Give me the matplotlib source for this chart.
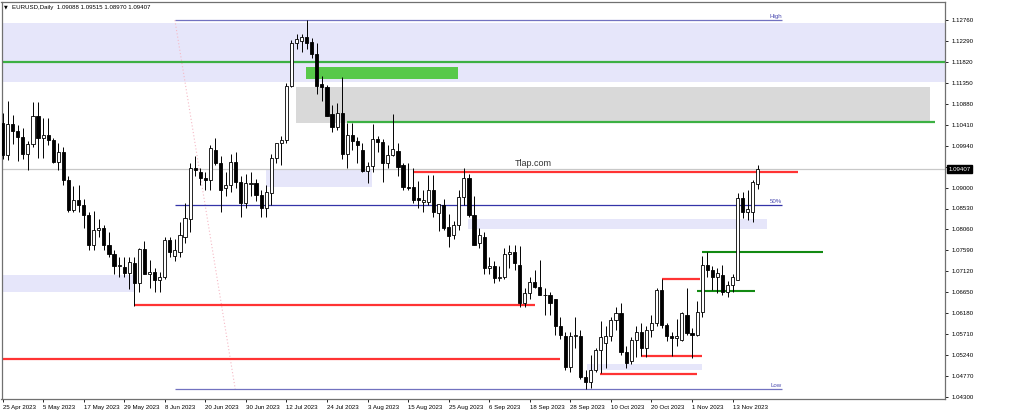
import numpy as np
import pandas as pd
import matplotlib.pyplot as plt
from matplotlib.transforms import blended_transform_factory

# =============================================================================
# Data: EURUSD daily candles, 25 Apr 2023 .. 20 Nov 2023
# =============================================================================

opens = [
    1.1045, 1.0973, 1.1043, 1.1028, 1.1013, 1.0975, 1.0998, 1.1060, 1.1012, 1.1018,
    1.1006, 1.0958, 1.0980, 1.0917, 1.0850, 1.0872, 1.0861, 1.0838, 1.0771, 1.0805,
    1.0810, 1.0771, 1.0750, 1.0723, 1.0722, 1.0708, 1.0731, 1.0686, 1.0762, 1.0706,
    1.0710, 1.0693, 1.0699, 1.0782, 1.0747, 1.0755, 1.0790, 1.0830, 1.0944, 1.0935,
    1.0922, 1.0918, 1.0984, 1.0955, 1.0899, 1.0906, 1.0957, 1.0912, 1.0865, 1.0908,
    1.0910, 1.0883, 1.0854, 1.0888, 1.0966, 1.0999, 1.1007, 1.1128, 1.1224, 1.1229,
    1.1238, 1.1227, 1.1200, 1.1132, 1.1126, 1.1066, 1.1037, 1.1068, 1.0975, 1.1017,
    1.1005, 1.0985, 1.0938, 1.0948, 1.1008, 1.1002, 1.0955, 1.0973, 1.0982, 1.0950,
    1.0902, 1.0901, 1.0876, 1.0868, 1.0868, 1.0895, 1.0843, 1.0861, 1.0812, 1.0793,
    1.0816, 1.0879, 1.0921, 1.0839, 1.0776, 1.0790, 1.0720, 1.0725, 1.0698, 1.0700,
    1.0752, 1.0755, 1.0726, 1.0641, 1.0663, 1.0688, 1.0677, 1.0659, 1.0659, 1.0650,
    1.0590, 1.0567, 1.0497, 1.0567, 1.0567, 1.0475, 1.0464, 1.0490, 1.0535, 1.0552,
    1.0566, 1.0603, 1.0618, 1.0530, 1.0510, 1.0558, 1.0576, 1.0540, 1.0580, 1.0596,
    1.0670, 1.0592, 1.0566, 1.0562, 1.0558, 1.0614, 1.0574, 1.0569, 1.0621, 1.0726,
    1.0715, 1.0700, 1.0704, 1.0666, 1.0681, 1.0693, 1.0877, 1.0845, 1.0845, 1.09088,
]
highs = [
    1.1068, 1.1095, 1.1062, 1.1040, 1.1033, 1.1005, 1.1092, 1.1092, 1.1055, 1.1055,
    1.1012, 1.1000, 1.0990, 1.0925, 1.0904, 1.0905, 1.0875, 1.0845, 1.0848, 1.0830,
    1.0815, 1.0800, 1.0760, 1.0745, 1.0745, 1.0745, 1.0745, 1.0765, 1.0780, 1.0737,
    1.0720, 1.0710, 1.0788, 1.0790, 1.0785, 1.0823, 1.0865, 1.0955, 1.0970, 1.0945,
    1.0935, 1.0995, 1.1012, 1.0970, 1.0935, 1.0975, 1.0980, 1.0925, 1.0930, 1.0935,
    1.0920, 1.0895, 1.0905, 1.0975, 1.1000, 1.1015, 1.1135, 1.1230, 1.1245, 1.1245,
    1.1276, 1.1235, 1.1225, 1.1150, 1.1130, 1.1085, 1.1090, 1.1149, 1.1045, 1.1045,
    1.1013, 1.1000, 1.0958, 1.1043, 1.1015, 1.1010, 1.0995, 1.1065, 1.1000, 1.0955,
    1.0955, 1.0945, 1.0915, 1.0895, 1.0928, 1.0928, 1.0860, 1.0875, 1.0840, 1.0825,
    1.0895, 1.0945, 1.0930, 1.0882, 1.0810, 1.0800, 1.0745, 1.0735, 1.0725, 1.0765,
    1.0770, 1.0770, 1.0768, 1.0675, 1.0700, 1.0715, 1.0737, 1.0675, 1.0665, 1.0650,
    1.0610, 1.0575, 1.0575, 1.0610, 1.0580, 1.0490, 1.0525, 1.0540, 1.0600, 1.0590,
    1.0610, 1.0632, 1.0641, 1.0545, 1.0565, 1.0590, 1.0595, 1.0590, 1.0615, 1.0675,
    1.0695, 1.0595, 1.0575, 1.0605, 1.0620, 1.0675, 1.0585, 1.0645, 1.0746, 1.0755,
    1.0725, 1.0720, 1.0726, 1.0690, 1.0705, 1.0888, 1.0890, 1.0894, 1.0918, 1.09515,
]
lows = [
    1.0965, 1.0962, 1.0998, 1.0960, 1.0965, 1.0940, 1.0990, 1.0967, 1.0967, 1.0995,
    1.0955, 1.0940, 1.0905, 1.0845, 1.0845, 1.0845, 1.0810, 1.0760, 1.0760, 1.0790,
    1.0760, 1.0745, 1.0705, 1.0700, 1.0700, 1.0673, 1.0635, 1.0665, 1.0705, 1.0675,
    1.0666, 1.0666, 1.0695, 1.0745, 1.0735, 1.0745, 1.0775, 1.0800, 1.0925, 1.0905,
    1.0895, 1.0895, 1.0950, 1.0845, 1.0880, 1.0890, 1.0900, 1.0835, 1.0855, 1.0880,
    1.0870, 1.0835, 1.0834, 1.0860, 1.0955, 1.0950, 1.1000, 1.1125, 1.1210, 1.1205,
    1.1210, 1.1190, 1.1110, 1.1095, 1.1060, 1.1025, 1.1030, 1.0965, 1.0945, 1.0985,
    1.0955, 1.0935, 1.0910, 1.0935, 1.0980, 1.0912, 1.0945, 1.0970, 1.0925, 1.0895,
    1.0895, 1.0865, 1.0855, 1.0845, 1.0860, 1.0835, 1.0802, 1.0805, 1.0766, 1.0785,
    1.0805, 1.0860, 1.0835, 1.0770, 1.0765, 1.0705, 1.0705, 1.0685, 1.0690, 1.0695,
    1.0720, 1.0715, 1.0632, 1.0632, 1.0650, 1.0675, 1.0660, 1.0615, 1.0615, 1.0570,
    1.0560, 1.0490, 1.0485, 1.0540, 1.0470, 1.0448, 1.0450, 1.0485, 1.0483, 1.0495,
    1.0555, 1.0580, 1.0525, 1.0495, 1.0505, 1.0520, 1.0523, 1.0520, 1.0565, 1.0590,
    1.0585, 1.0555, 1.0522, 1.0545, 1.0555, 1.0570, 1.0517, 1.0568, 1.0610, 1.0700,
    1.0670, 1.0663, 1.0660, 1.0654, 1.0665, 1.0693, 1.0832, 1.0827, 1.0823, 1.08970,
]
closes = [
    1.0973, 1.1043, 1.1028, 1.1013, 1.0975, 1.0998, 1.1060, 1.1012, 1.1018, 1.1006,
    1.0958, 1.0980, 1.0917, 1.0850, 1.0872, 1.0861, 1.0838, 1.0771, 1.0805, 1.0810,
    1.0771, 1.0750, 1.0723, 1.0726, 1.0708, 1.0733, 1.0686, 1.0762, 1.0706, 1.0710,
    1.0693, 1.0699, 1.0782, 1.0755, 1.0760, 1.0793, 1.0832, 1.0944, 1.0940, 1.0922,
    1.0918, 1.0988, 1.0955, 1.0894, 1.0906, 1.0957, 1.0912, 1.0865, 1.0910, 1.0911,
    1.0883, 1.0854, 1.0890, 1.0966, 1.0999, 1.1007, 1.1128, 1.1224, 1.1233, 1.1238,
    1.1224, 1.1200, 1.1128, 1.1126, 1.1060, 1.1037, 1.1068, 1.0975, 1.1017, 1.1005,
    1.0996, 1.0938, 1.0948, 1.1008, 1.1002, 1.0955, 1.0973, 1.0987, 1.0947, 1.0902,
    1.0900, 1.0872, 1.0872, 1.0873, 1.0895, 1.0845, 1.0863, 1.0810, 1.0792, 1.0816,
    1.0879, 1.0921, 1.0839, 1.0771, 1.0794, 1.0720, 1.0725, 1.0698, 1.0700, 1.0752,
    1.0755, 1.0730, 1.0641, 1.0663, 1.0688, 1.0677, 1.0659, 1.0659, 1.0641, 1.0590,
    1.0569, 1.0497, 1.0567, 1.0570, 1.0475, 1.0464, 1.0490, 1.0535, 1.0564, 1.0566,
    1.0603, 1.0618, 1.0530, 1.0507, 1.0558, 1.0576, 1.0540, 1.0580, 1.0596, 1.0670,
    1.0592, 1.0566, 1.0562, 1.0566, 1.0618, 1.0574, 1.0569, 1.0621, 1.0726, 1.0715,
    1.0699, 1.0709, 1.0666, 1.0681, 1.0699, 1.0877, 1.0845, 1.0852, 1.0913, 1.09407,
]

dates = pd.bdate_range("2023-04-25", periods=len(opens))
label_step = 8

price_ticks = [1.12760, 1.12290, 1.11820, 1.11350, 1.10880, 1.10410, 1.09940,
               1.09470, 1.09000, 1.08530, 1.08060, 1.07590, 1.07120, 1.06650,
               1.06180, 1.05710, 1.05240, 1.04770, 1.04300]

header = "EURUSD,Daily  1.09088 1.09515 1.08970 1.09407"
last_price = 1.09407

# Fibonacci anchors (bar index, price)
fib_high = 1.12757
fib_low = 1.04480
fib_start, fib_end = 34.0, 153.7
fib_diag = [(34.0, 1.12757), (45.9, 1.04480)]

# Zones drawn on the chart: (bar from, bar to, price low, price high)
lavender_zones = [
    (None, None, 1.11376, 1.12699),
    (52.0, 72.9, 1.09006, 1.09416),
    (91.8, 150.8, 1.08070, 1.08294),
    (None, 26.1, 1.06663, 1.07038),
    (115.3, 138.0, 1.04906, 1.05040),
]
gray_zones = [(57.9, 182.9, 1.10455, 1.11250)]
green_zones = [(59.9, 89.8, 1.11436, 1.11712)]

# Horizontal levels: (bar from, bar to, price)
red_levels = [
    (81.0, 156.9, 1.09349),
    (25.9, 105.0, 1.06365),
    (None, 110.0, 1.05142),
    (130.0, 137.6, 1.06949),
    (125.9, 138.0, 1.05231),
    (117.9, 137.0, 1.04816),
]
green_levels = [
    (None, None, 1.11817),
    (67.9, 184.0, 1.10464),
]
dark_green_levels = [
    (138.0, 161.8, 1.07560),
    (137.0, 148.4, 1.06679),
]

# =============================================================================
# Plot
# =============================================================================

plt.rcParams["font.family"] = ["Liberation Sans", "DejaVu Sans"]

fig = plt.figure(figsize=(10.24, 4.12), dpi=100)
ax = fig.add_axes([1.5 / 1024, 13.5 / 412, 943.5 / 1024, 397 / 412])

k = 0.0846 / 377
xmin, xmax = -0.2, 185.9
ymin, ymax = 1.12760 - 378.5 * k, 1.12760 + 18.5 * k
ax.set_xlim(xmin, xmax)
ax.set_ylim(ymin, ymax)


def span(a, b):
    return (xmin if a is None else a), (xmax if b is None else b)


for a, b, lo, hi in lavender_zones:
    a, b = span(a, b)
    ax.fill_between([a, b], lo, hi, color="#e6e6fa", lw=0, zorder=1)
for a, b, lo, hi in gray_zones:
    ax.fill_between([a, b], lo, hi, color="#d9d9d9", lw=0, zorder=1)
for a, b, lo, hi in green_zones:
    ax.fill_between([a, b], lo, hi, color="#58c94a", lw=0, zorder=1.5)

for a, b, p in red_levels:
    a, b = span(a, b)
    ax.hlines(p, a, b, color="#ff3333", lw=1.6, zorder=2)
for a, b, p in green_levels:
    a, b = span(a, b)
    ax.hlines(p, a, b, color="#3cb043", lw=1.6, zorder=2)
for a, b, p in dark_green_levels:
    ax.hlines(p, a, b, color="#138a13", lw=1.5, zorder=2)

# Fibonacci
fib_mid = (fib_high + fib_low) / 2
ax.hlines(fib_high, fib_start, fib_end, color="#7272c0", lw=0.9, zorder=2)
ax.hlines(fib_mid, fib_start, fib_end, color="#3434a8", lw=0.9, zorder=2)
ax.hlines(fib_low, fib_start, fib_end, color="#7272c0", lw=0.9, zorder=2)
ax.plot([p[0] for p in fib_diag], [p[1] for p in fib_diag],
        color="#f5b8c4", lw=0.8, ls=(0, (1, 2)), zorder=1.8)
for p, lab in [(fib_high, "High"), (fib_mid, "50%"), (fib_low, "Low")]:
    ax.text(fib_end, p + 0.00015, lab, fontsize=4.4, color="#4a4ab0",
            ha="right", va="bottom", zorder=3)

# bid line
ax.axhline(last_price, color="#c8c8c8", lw=0.9, zorder=1.2)

# candles
x = np.arange(len(opens))
o = np.array(opens)
c = np.array(closes)
ax.vlines(x, lows, highs, color="black", lw=0.7, zorder=4)
bottom = np.minimum(o, c)
height = np.maximum(np.abs(c - o), 0.00004)
face = np.where(c >= o, "white", "black")
ax.bar(x, height, bottom=bottom, width=0.62, color=face,
       edgecolor="black", linewidth=0.6, zorder=5)

ax.text(104.6, 1.09529, "Tlap.com", fontsize=6.5, color="#333333",
        ha="center", va="center", zorder=6)

# axes styling
for s in ax.spines.values():
    s.set_color("#707070")
    s.set_linewidth(0.9)

ax.yaxis.tick_right()
ax.set_yticks(price_ticks)
ax.set_yticklabels([f"{t:.5f}" for t in price_ticks])
ax.tick_params(axis="y", labelsize=4.4, length=2.5, width=0.6, pad=2,
               colors="black")

tick_idx = list(range(0, len(opens), label_step))
ax.set_xticks(tick_idx)
ax.set_xticklabels([f"{dates[i].day} {dates[i].strftime('%b %Y')}" for i in tick_idx],
                   ha="left")
ax.tick_params(axis="x", labelsize=4.4, length=2.5, width=0.6, pad=2.5,
               colors="black")

# current price label
tr = blended_transform_factory(ax.transAxes, ax.transData)
ax.text(1.0035, last_price, f"{last_price:.5f}", transform=tr, fontsize=4.4,
        color="white", ha="left", va="center", zorder=10,
        bbox=dict(boxstyle="square,pad=0.25", fc="black", ec="black"))

fig.text(4 / 1024, 1 - 7 / 412, "\u25bc", fontsize=3.5, ha="left",
         va="center", family="DejaVu Sans")
fig.text(12 / 1024, 1 - 7 / 412, header, fontsize=4.4, ha="left", va="center")

fig.savefig("out.png", dpi=100)
